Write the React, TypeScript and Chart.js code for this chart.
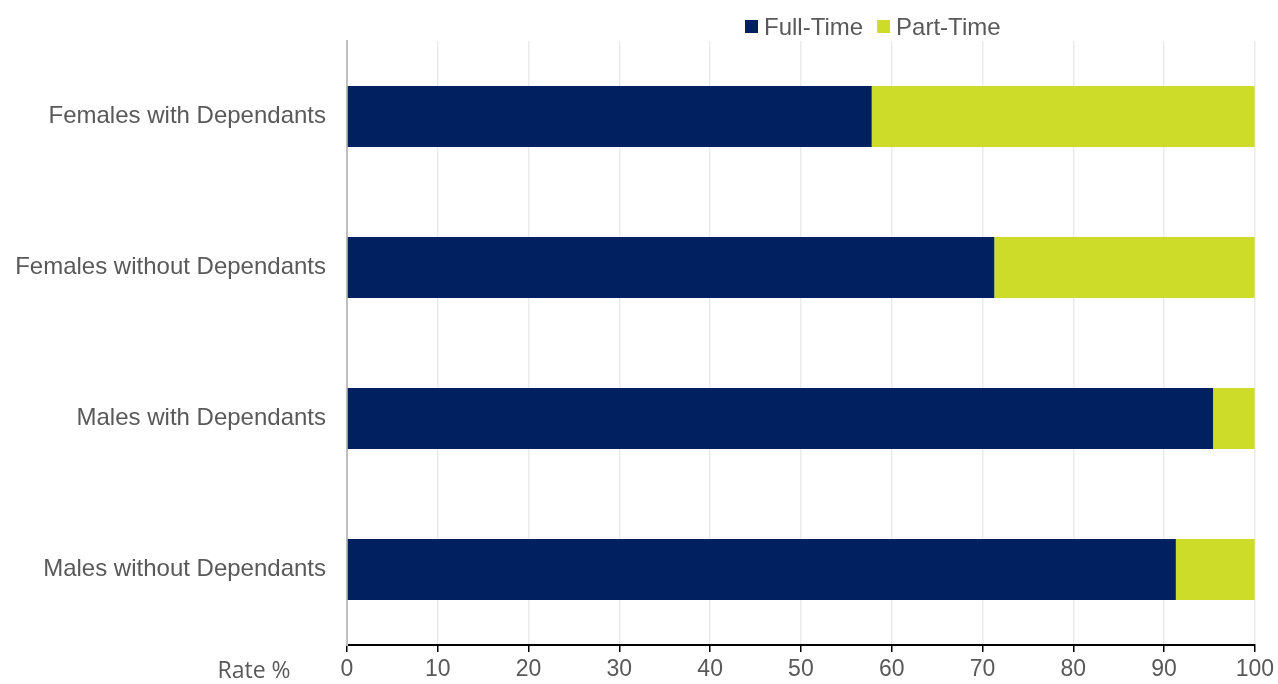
import React, { useEffect, useRef } from "react";
import { Chart, registerables } from "chart.js";

Chart.register(...registerables);

const categories = [
  "Females with Dependants",
  "Females without Dependants",
  "Males with Dependants",
  "Males without Dependants",
];
const fullTime = [57.8, 71.3, 95.4, 91.3];
const partTime = [42.2, 28.7, 4.6, 8.7];
const seriesNames = ["Full-Time", "Part-Time"];
const seriesColors = ["#002060", "#cddc29"];
const xTicks = [0, 10, 20, 30, 40, 50, 60, 70, 80, 90, 100];
const axisTitle = "Rate %";

const TEXT = "#595959";
const ARIAL = "'Liberation Sans', Arial, sans-serif";

const extrasPlugin = {
  id: "extras",
  afterDraw(chart: any) {
    const ctx = chart.ctx;
    ctx.save();
    // legend
    ctx.font = `24px ${ARIAL}`;
    ctx.textBaseline = "middle";
    ctx.textAlign = "left";
    let x = 745;
    const yMid = 27;
    chart.data.datasets.forEach((ds: any) => {
      ctx.fillStyle = ds.backgroundColor;
      ctx.fillRect(x, yMid - 7, 13, 13);
      ctx.fillStyle = TEXT;
      ctx.fillText(ds.label, x + 19, yMid + 1);
      x += 19 + ctx.measureText(ds.label).width + 14;
    });
    // axis title
    ctx.font = `23px 'Open Sans', sans-serif`;
    ctx.textAlign = "center";
    ctx.fillStyle = TEXT;
    ctx.fillText(axisTitle, 254, 671);
    ctx.restore();
  },
};

export default function App() {
  const ref = useRef<HTMLCanvasElement | null>(null);
  useEffect(() => {
    if (!ref.current) return;
    const chart = new Chart(ref.current, {
      type: "bar",
      data: {
        labels: categories,
        datasets: [
          { label: seriesNames[0], data: fullTime, backgroundColor: seriesColors[0] },
          { label: seriesNames[1], data: partTime, backgroundColor: seriesColors[1] },
        ],
      },
      options: {
        indexAxis: "y",
        animation: false,
        responsive: true,
        maintainAspectRatio: false,
        layout: { padding: { left: 0, right: 23, top: 41, bottom: 0 } },
        datasets: { bar: { barPercentage: 0.403, categoryPercentage: 1 } },
        plugins: { legend: { display: false }, tooltip: { enabled: false } },
        scales: {
          x: {
            stacked: true,
            min: 0,
            max: 100,
            afterBuildTicks: (s: any) => {
              s.ticks = xTicks.map((v) => ({ value: v }));
            },
            afterFit: (s: any) => {
              s.height = 39;
            },
            grid: {
              color: "#ebebeb",
              lineWidth: 1.5,
              tickColor: "#000000",
              tickLength: 7,
              drawTicks: true,
            },
            border: { display: true, color: "#000000", width: 2 },
            ticks: {
              color: TEXT,
              font: { family: ARIAL, size: 23 },
              padding: 4,
              maxRotation: 0,
            },
          },
          y: {
            stacked: true,
            afterFit: (s: any) => {
              s.width = 347;
            },
            grid: { display: false, drawTicks: false },
            border: { display: true, color: "#bfbfbf", width: 2 },
            ticks: {
              color: TEXT,
              font: { family: ARIAL, size: 24 },
              padding: 21,
            },
          },
        },
      },
      plugins: [extrasPlugin],
    } as any);
    return () => chart.destroy();
  }, []);
  return (
    <div style={{ position: "fixed", left: 0, top: 0, width: 1278, height: 684, background: "#fff" }}>
      <canvas ref={ref} />
    </div>
  );
}
